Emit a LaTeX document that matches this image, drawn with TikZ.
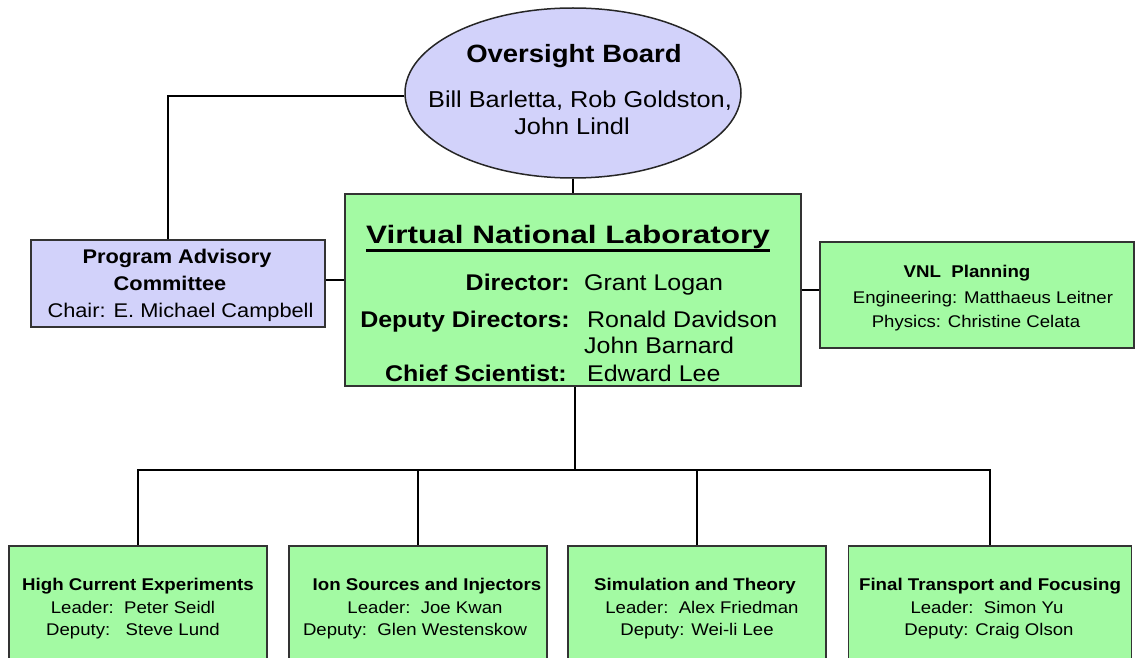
\documentclass[tikz,border=0pt]{standalone}
\usepackage{fontspec}
\setmainfont{Liberation Sans}[FakeStretch=1.1]
\newfontfamily\widesans{Liberation Sans}[FakeStretch=1.25]
\usetikzlibrary{shapes.geometric}

\definecolor{boardblue}{RGB}{210,210,250}
\definecolor{labgreen}{RGB}{163,250,163}

\tikzset{
    wire/.style={line width=2.5pt},
    board/.style={ellipse, draw=black!85, line width=1.5pt, fill=boardblue, inner sep=0},
    pacbox/.style={rectangle, draw=black!80, line width=1.5pt, fill=boardblue, inner sep=0},
    labbox/.style={rectangle, draw=black!80, line width=1.5pt, fill=labgreen, inner sep=0},
    groupbox/.style={labbox, minimum height=160pt},
    txt/.style={inner sep=0, anchor=base},
    big/.style={txt, font=\fontsize{25}{29}\selectfont\bfseries},
    mid/.style={txt, font=\fontsize{23}{27}\selectfont},
    vnlbf/.style={txt, font=\fontsize{22.7}{26}\selectfont\bfseries, anchor=base east},
    vnlrm/.style={txt, font=\fontsize{22.7}{26}\selectfont, anchor=base west},
    pacbf/.style={txt, font=\fontsize{19.8}{23}\selectfont\bfseries},
    pacrm/.style={txt, font=\fontsize{19.8}{23}\selectfont},
    small/.style={txt, font=\fontsize{16.9}{20}\selectfont},
    smallbf/.style={txt, font=\fontsize{17}{20}\selectfont\bfseries},
}

\begin{document}
\begin{tikzpicture}[x=1pt, y=-1pt]
    \useasboundingbox (0,0) rectangle (1138,658);

    % the boxes
    \node[board, minimum width=336pt, minimum height=170pt] (board) at (573,93) {};
    \node[pacbox, minimum width=294pt, minimum height=87pt] (pac) at (178,283.5) {};
    \node[labbox, minimum width=456pt, minimum height=192pt] (vnl) at (573,290) {};
    \node[labbox, minimum width=314pt, minimum height=106pt] (plan) at (977,295) {};

    \node[groupbox, minimum width=258pt] (hcx) at (138,626) {};
    \node[groupbox, minimum width=258pt] (isi) at (418,626) {};
    \node[groupbox, minimum width=258pt] (sim) at (697,626) {};
    \node[groupbox, minimum width=283pt] (ftf) at (990,626) {};

    % the connectors
    \coordinate (hub) at (575,470);
    \draw[wire] ([yshift=-3pt]board.west) -| ([xshift=-10pt]pac.north);
    \draw[wire] (board.south) -- (vnl.north);
    \draw[wire] ([yshift=3.5pt]pac.east) -- ([yshift=3.5pt]pac.east -| vnl.west);
    \draw[wire] ([yshift=5pt]vnl.east |- plan.west) -- ([yshift=5pt]plan.west);
    \draw[wire] (vnl.south -| hub) -- (hub);
    \draw[wire] (hcx.north) |- (hub) -| (ftf.north);
    \draw[wire] (isi.north) -- (isi.north |- hub);
    \draw[wire] (sim.north) -- (sim.north |- hub);

    % oversight board
    \node[big] (boardtitle) at (574,63) {Oversight Board};
    \node[mid] (boardline1) at (580,108) {Bill Barletta, Rob Goldston,};
    \node[mid] (boardline2) at (572,135) {John Lindl};

    % program advisory committee
    \node[pacbf] (pactitle1) at (177,263) {Program Advisory};
    \node[pacbf] (pactitle2) at (170,290) {Committee};
    \node[pacrm] (pacchair) at (180.5,317) {Chair: E. Michael Campbell};

    % virtual national laboratory
    \node[txt, font=\fontsize{25.2}{30}\widesans\bfseries] (vnltitle) at (568,243) {Virtual National Laboratory};
    \draw[line width=2.5pt] ([yshift=-2pt]vnltitle.south west) -- ([yshift=-2pt]vnltitle.south east);

    \node[vnlbf] (dirlabel) at (570,290) {Director:};
    \node[vnlrm] (dirname) at (584,290) {Grant Logan};
    \node[vnlbf] (deplabel) at (570,327) {Deputy Directors:};
    \node[vnlrm] (depname1) at (587,327) {Ronald Davidson};
    \node[vnlrm] (depname2) at (584,353) {John Barnard};
    \node[vnlbf] (chieflabel) at (567,381) {Chief Scientist:};
    \node[vnlrm] (chiefname) at (587,381) {Edward Lee};

    % vnl planning
    \node[smallbf] (plantitle) at (967,277) {VNL\ \ Planning};
    \node[small] (planline1) at (983,303) {Engineering: Matthaeus Leitner};
    \node[small] (planline2) at (976,327) {Physics: Christine Celata};

    % the four groups
    \node[smallbf] (hcxtitle) at (138,590) {High Current Experiments};
    \node[small] (hcxline1) at (133,613) {Leader:\ \ Peter Seidl};
    \node[small] (hcxline2) at (133,635) {Deputy:\ \ \ Steve Lund};

    \node[smallbf] (isititle) at (427,590) {Ion Sources and Injectors};
    \node[small] (isiline1) at (425,613) {Leader:\ \ Joe Kwan};
    \node[small] (isiline2) at (415,635) {Deputy:\ \ Glen Westenskow};

    \node[smallbf] (simtitle) at (695,590) {Simulation and Theory};
    \node[small] (simline1) at (702,613) {Leader:\ \ Alex Friedman};
    \node[small] (simline2) at (697,635) {Deputy: Wei-li Lee};

    \node[smallbf] (ftftitle) at (990,590) {Final Transport and Focusing};
    \node[small] (ftfline1) at (987,613) {Leader:\ \ Simon Yu};
    \node[small] (ftfline2) at (989,635) {Deputy: Craig Olson};
\end{tikzpicture}
\end{document}
